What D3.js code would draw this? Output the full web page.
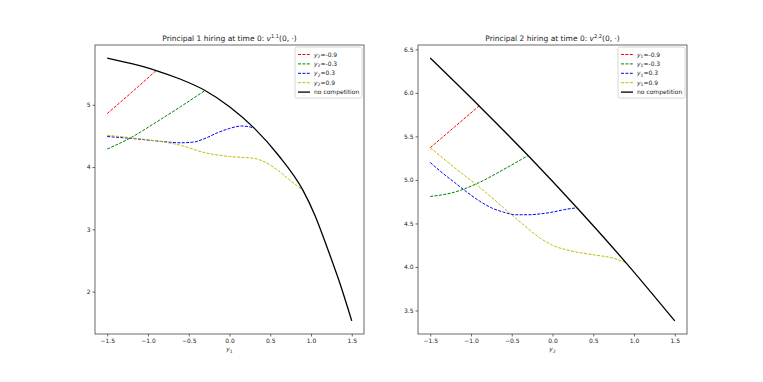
<!DOCTYPE html>
<html>
<meta charset="utf-8">
<style>
  body { margin: 0; background: #fff; }
  svg text { font-family: "DejaVu Sans", sans-serif; fill: #222; }
  .axis path, .axis line { stroke: #444; stroke-width: 0.8; }
  .axis text { font-size: 6px; }
</style>
<body>
<script src="https://d3js.org/d3.v7.min.js"></script>
<script>
// ---- data ----
// left panel: Principal 1, x = y1, curves for several y2
var x1Grid = [-1.5, -1.2, -0.9, -0.6, -0.3, 0.0, 0.3, 0.6, 0.9, 1.05, 1.2, 1.35, 1.5];
var noComp1 = [5.75, 5.66, 5.55, 5.41, 5.23, 4.97, 4.63, 4.19, 3.63, 3.22, 2.70, 2.15, 1.53];

var red1X = [-1.5, -1.2, -0.9];
var red1Y = [4.86, 5.20, 5.55];
var green1X = [-1.5, -1.2, -0.9, -0.6, -0.3];
var green1Y = [4.29, 4.48, 4.72, 4.97, 5.23];
var blue1X = [-1.5, -1.2, -0.9, -0.6, -0.45, -0.3, -0.15, 0.0, 0.15, 0.3];
var blue1Y = [4.49, 4.46, 4.42, 4.39, 4.40, 4.46, 4.55, 4.62, 4.66, 4.63];
var yellow1X = [-1.5, -1.2, -0.9, -0.6, -0.3, 0.0, 0.3, 0.45, 0.6, 0.75, 0.9];
var yellow1Y = [4.51, 4.47, 4.42, 4.35, 4.23, 4.17, 4.14, 4.07, 3.94, 3.78, 3.63];

// right panel: Principal 2, x = y2, curves for several y1
var x2Grid = [-1.5, -0.9, -0.3, 0.3, 0.9, 1.5];
var noComp2 = [6.40, 5.85, 5.28, 4.68, 4.05, 3.38];

var red2X = [-1.5, -1.2, -0.9];
var red2Y = [5.37, 5.61, 5.85];
var green2X = [-1.5, -1.2, -0.9, -0.6, -0.3];
var green2Y = [4.81, 4.86, 4.97, 5.12, 5.28];
var blue2X = [-1.5, -1.35, -1.2, -1.05, -0.9, -0.75, -0.6, -0.45, -0.3, -0.15, 0.0, 0.15, 0.3];
var blue2Y = [5.20, 5.08, 4.97, 4.86, 4.76, 4.68, 4.63, 4.60, 4.60, 4.61, 4.63, 4.66, 4.68];
var yellow2X = [-1.5, -1.2, -0.9, -0.6, -0.45, -0.3, -0.15, 0.0, 0.25, 0.5, 0.75, 0.9];
var yellow2Y = [5.37, 5.14, 4.92, 4.68, 4.56, 4.44, 4.33, 4.25, 4.18, 4.14, 4.10, 4.05];

var xTicks = [-1.5, -1.0, -0.5, 0.0, 0.5, 1.0, 1.5];
var yTicks1 = [2, 3, 4, 5];
var yTicks2 = [3.5, 4.0, 4.5, 5.0, 5.5, 6.0, 6.5];

var legendVals = ["-0.9", "-0.3", "0.3", "0.9"];
var colors = ["#ff0000", "#008000", "#0000ff", "#bfbf00"];

var width = 763, height = 382;

var svg = d3.select("body").append("svg")
    .attr("width", width)
    .attr("height", height);

function zip(xs, ys) { return xs.map(function(x, i) { return [x, ys[i]]; }); }

function panel(opt) {
  var x = d3.scaleLinear().domain([-1.65, 1.65]).range([opt.left, opt.right]);
  var y = d3.scaleLinear().domain(opt.ydom).range([opt.bottom, opt.top]);
  var g = svg.append("g");

  var line = d3.line()
      .x(function(d) { return x(d[0]); })
      .y(function(d) { return y(d[1]); })
      .curve(d3.curveMonotoneX);

  opt.series.forEach(function(s, i) {
    g.append("path")
      .attr("d", line(zip(s[0], s[1])))
      .attr("fill", "none")
      .attr("stroke", colors[i])
      .attr("stroke-width", 1)
      .attr("stroke-dasharray", "3,1.4");
  });
  g.append("path")
    .attr("d", line(zip(opt.gridX, opt.noComp)))
    .attr("fill", "none")
    .attr("stroke", "#000")
    .attr("stroke-width", 1.3);

  // axes
  g.append("g").attr("class", "axis")
    .attr("transform", "translate(0," + opt.bottom + ")")
    .call(d3.axisBottom(x).tickValues(xTicks).tickSize(2.5).tickPadding(2)
      .tickFormat(function(d) { return d3.format(".1f")(d).replace("-", "\u2212"); }))
    .call(function(a) { a.select(".domain").remove(); });
  g.append("g").attr("class", "axis")
    .attr("transform", "translate(" + opt.left + ",0)")
    .call(d3.axisLeft(y).tickValues(opt.yTicks).tickSize(2.5).tickPadding(2)
      .tickFormat(opt.yFmt))
    .call(function(a) { a.select(".domain").remove(); });

  g.append("rect")
    .attr("x", opt.left).attr("y", opt.top)
    .attr("width", opt.right - opt.left).attr("height", opt.bottom - opt.top)
    .attr("fill", "none").attr("stroke", "#444").attr("stroke-width", 0.8);

  // title
  var t = g.append("text")
    .attr("x", (opt.left + opt.right) / 2).attr("y", opt.top - 4)
    .attr("text-anchor", "middle").style("font-size", "7.5px");
  t.append("tspan").text(opt.title);
  t.append("tspan").style("font-style", "italic").text("v");
  t.append("tspan").attr("dy", -3).style("font-size", "5px").text(opt.sup);
  t.append("tspan").attr("dy", 3).text("(0, \u00b7)");

  // x label
  var xl = g.append("text")
    .attr("x", (opt.left + opt.right) / 2).attr("y", opt.bottom + 17)
    .attr("text-anchor", "middle").style("font-size", "6px");
  xl.append("tspan").style("font-style", "italic").text("y");
  xl.append("tspan").attr("dy", 1.5).style("font-size", "4.5px").text(opt.xsub);

  // legend
  var lx = opt.right - 69, ly = opt.top + 2;
  var lg = g.append("g");
  lg.append("rect")
    .attr("x", lx).attr("y", ly).attr("width", 67).attr("height", 51).attr("rx", 1.5)
    .attr("fill", "#fff").attr("stroke", "#ccc").attr("stroke-width", 0.8);
  legendVals.forEach(function(v, i) {
    var yy = ly + 7.5 + i * 9.4;
    lg.append("line").attr("x1", lx + 3).attr("x2", lx + 15).attr("y1", yy).attr("y2", yy)
      .attr("stroke", colors[i]).attr("stroke-width", 1).attr("stroke-dasharray", "3,1.4");
    var tx = lg.append("text").attr("x", lx + 19).attr("y", yy + 2).style("font-size", "6px");
    tx.append("tspan").style("font-style", "italic").text("y");
    tx.append("tspan").attr("dy", 1.5).style("font-size", "4.5px").text(opt.legSub);
    tx.append("tspan").attr("dy", -1.5).text("=" + v);
  });
  var yy = ly + 7.5 + 4 * 9.4;
  lg.append("line").attr("x1", lx + 3).attr("x2", lx + 15).attr("y1", yy).attr("y2", yy)
    .attr("stroke", "#000").attr("stroke-width", 1.3);
  lg.append("text").attr("x", lx + 19).attr("y", yy + 2).style("font-size", "6px")
    .text("no competition");
}

panel({
  left: 95, right: 364, top: 45, bottom: 334,
  ydom: [1.32, 5.96], yTicks: yTicks1, yFmt: d3.format("d"),
  gridX: x1Grid, noComp: noComp1,
  series: [[red1X, red1Y], [green1X, green1Y], [blue1X, blue1Y], [yellow1X, yellow1Y]],
  title: "Principal 1 hiring at time 0: ", sup: "1,1", xsub: "1", legSub: "2"
});

panel({
  left: 418, right: 687, top: 45, bottom: 334,
  ydom: [3.23, 6.55], yTicks: yTicks2, yFmt: d3.format(".1f"),
  gridX: x2Grid, noComp: noComp2,
  series: [[red2X, red2Y], [green2X, green2Y], [blue2X, blue2Y], [yellow2X, yellow2Y]],
  title: "Principal 2 hiring at time 0: ", sup: "2,2", xsub: "2", legSub: "1"
});
</script>
</body>
</html>
